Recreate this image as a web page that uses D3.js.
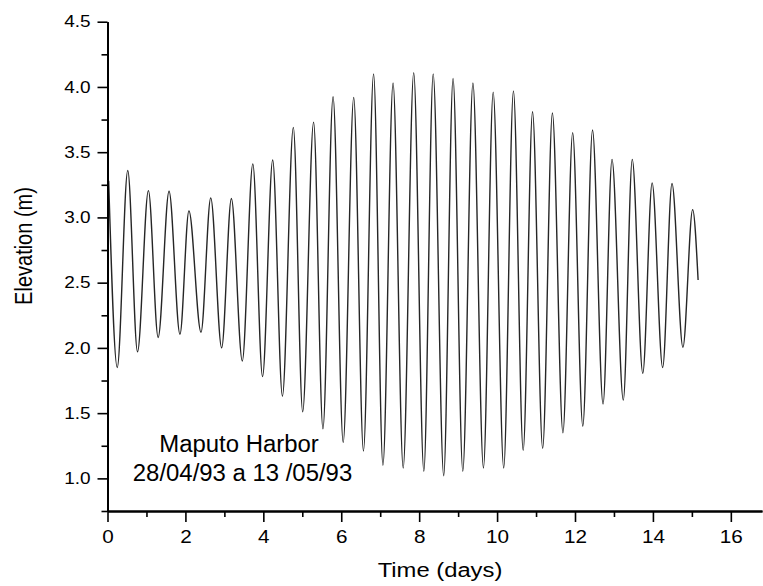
<!DOCTYPE html>
<html>
<head>
<meta charset="utf-8">
<script src="https://cdn.jsdelivr.net/npm/d3@7"></script>
<style>
  body { margin: 0; background: #fff; }
  text { font-family: "Liberation Sans", Arial, Helvetica, sans-serif; fill: #000; }
</style>
</head>
<body>
<svg id="chart" width="763" height="586"></svg>
<script>
// Successive high / low water times (days since 28/04/93) and elevations (m)
const tideTime = [
  0.03, 0.25, 0.52, 0.77, 1.05, 1.30, 1.58, 1.86, 2.09, 2.40,
  2.65, 2.93, 3.18, 3.46, 3.73, 3.98, 4.24, 4.49, 4.77, 5.01,
  5.29, 5.53, 5.79, 6.05, 6.32, 6.57, 6.83, 7.07, 7.33, 7.59,
  7.86, 8.12, 8.36, 8.63, 8.87, 9.12, 9.38, 9.65, 9.90, 10.17,
  10.42, 10.67, 10.91, 11.17, 11.42, 11.69, 11.94, 12.20, 12.45, 12.72,
  12.95, 13.24, 13.47, 13.74, 13.98, 14.25, 14.49, 14.77, 15.02, 15.16
];
const tideElevation = [
  3.28, 1.85, 3.36, 1.97, 3.205, 2.08, 3.20, 2.105, 3.05, 2.12,
  3.15, 2.00, 3.145, 1.90, 3.41, 1.78, 3.44, 1.63, 3.69, 1.51,
  3.73, 1.38, 3.925, 1.275, 3.92, 1.21, 4.10, 1.10, 4.03, 1.08,
  4.11, 1.055, 4.10, 1.02, 4.065, 1.055, 4.03, 1.08, 3.96, 1.08,
  3.97, 1.215, 3.81, 1.23, 3.80, 1.35, 3.65, 1.40, 3.67, 1.57,
  3.445, 1.60, 3.445, 1.805, 3.265, 1.85, 3.26, 2.005, 3.06, 2.52
];

const xMajorTicks = [0, 2, 4, 6, 8, 10, 12, 14, 16];
const xMinorTicks = [1, 3, 5, 7, 9, 11, 13, 15];
const yMajorTicks = [1.0, 1.5, 2.0, 2.5, 3.0, 3.5, 4.0, 4.5];
const yMinorTicks = [0.75, 1.25, 1.75, 2.25, 2.75, 3.25, 3.75, 4.25];

const stationLabel = "Maputo Harbor";
const periodLabel = "28/04/93 a 13 /05/93";
const xTitle = "Time (days)";
const yTitle = "Elevation (m)";

const svg = d3.select("#chart");

const x = d3.scaleLinear().domain([0, 16.8]).range([107.5, 762]);
const y = d3.scaleLinear().domain([0.75, 4.5]).range([511, 21.7]);

// Tide curve through the high and low waters
const line = d3.line()
  .x(d => x(d[0]))
  .y(d => y(d[1]))
  .curve(d3.curveMonotoneX);

svg.append("path")
  .datum(d3.zip(tideTime, tideElevation))
  .attr("fill", "none")
  .attr("stroke", "#262626")
  .attr("stroke-width", 1.4)
  .attr("stroke-linejoin", "round")
  .attr("d", line);

function styleAxis(g) {
  g.select(".domain").attr("stroke", "#000").attr("stroke-width", 2);
  g.selectAll(".tick line").attr("stroke", "#000").attr("stroke-width", 1.6);
}

// X axis: minor then major ticks
svg.append("g")
  .attr("transform", `translate(0,${y.range()[0]})`)
  .call(d3.axisBottom(x).tickValues(xMinorTicks).tickSize(6).tickSizeOuter(0).tickFormat(""))
  .call(styleAxis);

const gx = svg.append("g")
  .attr("transform", `translate(0,${y.range()[0]})`)
  .call(d3.axisBottom(x).tickValues(xMajorTicks).tickSize(11).tickSizeOuter(0)
    .tickPadding(8).tickFormat(d3.format("d")))
  .call(styleAxis);
gx.selectAll(".tick text")
  .attr("font-size", 18)
  .attr("fill", "#000")
  .attr("transform", "scale(1.15,1)");

// Y axis: minor then major ticks
svg.append("g")
  .attr("transform", `translate(${x.range()[0]},0)`)
  .call(d3.axisLeft(y).tickValues(yMinorTicks).tickSize(6).tickSizeOuter(0).tickFormat(""))
  .call(styleAxis);

const gy = svg.append("g")
  .attr("transform", `translate(${x.range()[0]},0)`)
  .call(d3.axisLeft(y).tickValues(yMajorTicks).tickSize(10).tickSizeOuter(0)
    .tickPadding(7).tickFormat(d3.format(".1f")))
  .call(styleAxis);
gy.selectAll(".tick text")
  .attr("font-size", 16.5)
  .attr("fill", "#000")
  .attr("x", 0)
  .attr("transform", "translate(-17,0) scale(1.15,1)");

// Axis titles
svg.append("text")
  .attr("text-anchor", "middle")
  .attr("font-size", 20)
  .attr("transform", "translate(440,577) scale(1.19,1)")
  .text(xTitle);

svg.append("text")
  .attr("text-anchor", "middle")
  .attr("font-size", 20)
  .attr("transform", "translate(31.5,246) scale(1.22,1) rotate(-90)")
  .text(yTitle);

// Station annotation
svg.append("text")
  .attr("text-anchor", "middle")
  .attr("font-size", 23)
  .attr("transform", "translate(239,452) scale(1.04,1)")
  .text(stationLabel);

svg.append("text")
  .attr("text-anchor", "middle")
  .attr("font-size", 23)
  .attr("transform", "translate(242.5,481) scale(1.04,1)")
  .text(periodLabel);
</script>
</body>
</html>
